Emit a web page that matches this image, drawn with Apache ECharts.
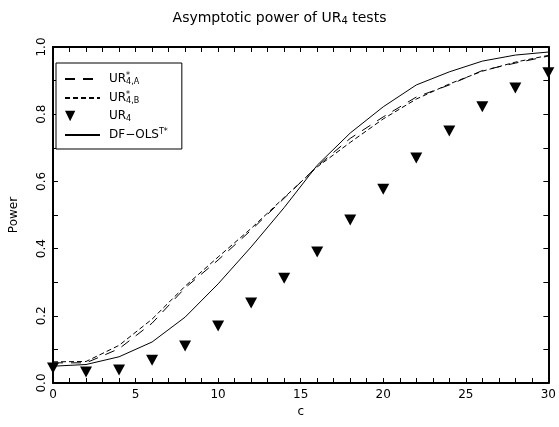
<!DOCTYPE html>
<html>
<head>
<meta charset="utf-8">
<script src="https://cdn.jsdelivr.net/npm/echarts@6/dist/echarts.min.js"></script>
<style>
  html, body { margin: 0; padding: 0; background: #fff; }
  #chart { width: 559px; height: 427px; }
</style>
</head>
<body>
<div id="chart"></div>
<script>
// Non-centrality parameter c
const cValues = [0, 2, 4, 6, 8, 10, 12, 14, 16, 18, 20, 22, 24, 26, 28, 30];

// Asymptotic power of each test
const powerUR4A = [0.060, 0.060, 0.102, 0.178, 0.283, 0.366, 0.455, 0.550, 0.645, 0.728, 0.792, 0.851, 0.887, 0.930, 0.952, 0.973];
const powerUR4B = [0.063, 0.064, 0.112, 0.190, 0.288, 0.375, 0.460, 0.552, 0.643, 0.716, 0.786, 0.845, 0.890, 0.928, 0.955, 0.975];
const powerUR4  = [0.045, 0.033, 0.039, 0.068, 0.110, 0.170, 0.238, 0.312, 0.390, 0.485, 0.577, 0.670, 0.750, 0.822, 0.878, 0.923];
const powerDF   = [0.050, 0.055, 0.078, 0.122, 0.196, 0.295, 0.405, 0.522, 0.648, 0.744, 0.822, 0.887, 0.926, 0.958, 0.976, 0.985];

const xTicks = [0, 5, 10, 15, 20, 25, 30];
const yTicks = [0.0, 0.2, 0.4, 0.6, 0.8, 1.0];

const FONT = 'DejaVu Sans';
const TRI = 'path://M0,0 L10,0 L5,10 Z';
// Same triangle, with a tiny stub on the right so the icon sits at the left of the key slot
const TRI_LEGEND = 'path://M0,0 L10,0 L5,10 Z M34,0 L34.01,0 L34,0.01 Z';
const NO_SYMBOL = { color: 'rgba(0,0,0,0)', borderWidth: 0, opacity: 0 };

const pairs = (ys) => cValues.map((c, i) => [c, ys[i]]);

const legendLabels = {
  URA: 'UR{sup|*}{sub|4,A}',
  URB: 'UR{sup|*}{sub|4,B}',
  UR4: 'UR{sub|4}',
  DF: 'DF\u2212OLS{sup2|T*}'
};

const chart = echarts.init(document.getElementById('chart'), null, { renderer: 'canvas' });

const axisCommon = {
  axisLine: { show: true, onZero: false, lineStyle: { color: '#000', width: 2 } },
  axisTick: { show: true, inside: true, length: 5, lineStyle: { color: '#000', width: 1 } },
  minorTick: { show: true, length: 5, lineStyle: { color: '#000', width: 1 } },
  splitLine: { show: false }
};

chart.setOption({
  animation: false,
  backgroundColor: '#fff',
  title: {
    text: 'Asymptotic power of UR{sub|4} tests',
    left: 'center',
    top: 5,
    textStyle: {
      fontFamily: FONT, fontSize: 14, fontWeight: 'normal', color: '#000',
      rich: { sub: { fontFamily: FONT, fontSize: 10, verticalAlign: 'bottom', padding: [6, 0, 0, 0], color: '#000' } }
    }
  },
  grid: { left: 47, right: 8, top: 47, bottom: 44 },
  xAxis: [
    Object.assign({}, axisCommon, {
      type: 'value', min: 0, max: 30, interval: 5, position: 'bottom',
      minorTick: Object.assign({}, axisCommon.minorTick, { splitNumber: 5 }),
      name: 'c', nameLocation: 'middle', nameGap: 19,
      nameTextStyle: { fontFamily: FONT, fontSize: 12, color: '#000' },
      axisLabel: {
        color: '#000', fontFamily: FONT, fontSize: 12, margin: 6,
        formatter: (v) => (xTicks.indexOf(v) >= 0 ? String(v) : '')
      }
    }),
    Object.assign({}, axisCommon, {
      type: 'value', min: 0, max: 30, interval: 5, position: 'top',
      minorTick: Object.assign({}, axisCommon.minorTick, { splitNumber: 5 }),
      axisLabel: { show: false }
    })
  ],
  yAxis: [
    Object.assign({}, axisCommon, {
      type: 'value', min: 0, max: 1, interval: 0.2, position: 'left',
      minorTick: Object.assign({}, axisCommon.minorTick, { splitNumber: 2 }),
      name: 'Power', nameLocation: 'middle', nameGap: 33, nameRotate: 90,
      nameTextStyle: { fontFamily: FONT, fontSize: 12, color: '#000' },
      axisLabel: {
        color: '#000', fontFamily: FONT, fontSize: 12, rotate: 90, margin: 5,
        formatter: (v) => {
          const t = yTicks.find((y) => Math.abs(y - v) < 1e-6);
          return t === undefined ? '' : t.toFixed(1);
        }
      }
    }),
    Object.assign({}, axisCommon, {
      type: 'value', min: 0, max: 1, interval: 0.2, position: 'right',
      minorTick: Object.assign({}, axisCommon.minorTick, { splitNumber: 2 }),
      axisLabel: { show: false }
    })
  ],
  legend: {
    orient: 'vertical',
    left: 56, top: 63,
    padding: [9, 14, 8, 8],
    backgroundColor: '#fff',
    borderColor: '#000', borderWidth: 1, borderRadius: 0,
    itemWidth: 35, itemHeight: 12, itemGap: 5,
    data: [
      { name: 'URA', itemStyle: NO_SYMBOL },
      { name: 'URB', itemStyle: NO_SYMBOL },
      { name: 'UR4', icon: TRI_LEGEND, itemStyle: { color: '#000', opacity: 1 } },
      { name: 'DF', itemStyle: NO_SYMBOL }
    ],
    formatter: (name) => legendLabels[name],
    textStyle: {
      fontFamily: FONT, fontSize: 12, color: '#000', padding: [0, 0, 0, 4],
      rich: {
        sup: { fontFamily: FONT, fontSize: 8, color: '#000', verticalAlign: 'top', width: 0, padding: [0, 0, 6, 0] },
        sup2: { fontFamily: FONT, fontSize: 8, color: '#000', verticalAlign: 'top', padding: [0, 0, 6, 0] },
        sub: { fontFamily: FONT, fontSize: 8, color: '#000', verticalAlign: 'bottom', padding: [6, 0, 0, 0] }
      }
    }
  },
  series: [
    {
      name: 'URA', type: 'line', data: pairs(powerUR4A), showSymbol: false, symbol: 'none',
      lineStyle: { color: '#000', width: 1, type: [10, 8] }, itemStyle: { color: '#000' }
    },
    {
      name: 'URB', type: 'line', data: pairs(powerUR4B), showSymbol: false, symbol: 'none',
      lineStyle: { color: '#000', width: 1, type: [5, 3] }, itemStyle: { color: '#000' }
    },
    {
      name: 'UR4', type: 'scatter', data: pairs(powerUR4), symbol: TRI, symbolSize: [12, 11],
      itemStyle: { color: '#000', opacity: 1 }
    },
    {
      name: 'DF', type: 'line', data: pairs(powerDF), showSymbol: false, symbol: 'none',
      lineStyle: { color: '#000', width: 1, type: 'solid' }, itemStyle: { color: '#000' }
    }
  ]
});
</script>
</body>
</html>
